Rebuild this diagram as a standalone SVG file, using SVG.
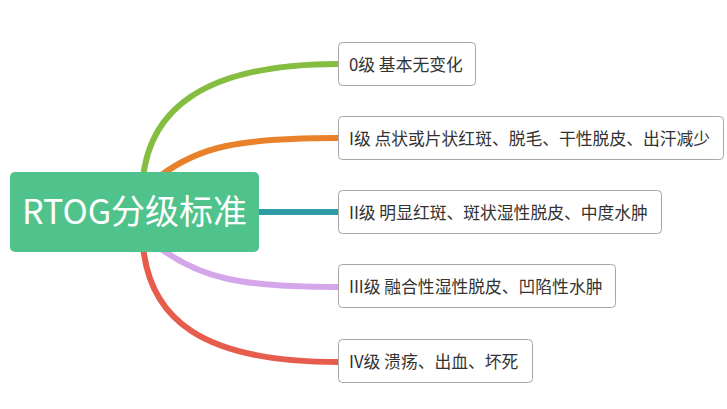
<svg xmlns="http://www.w3.org/2000/svg" width="727" height="409" viewBox="0 0 727 409">
<style>
.c{fill:none;stroke-width:6;stroke-linecap:round}
.n{fill:#fff;stroke:#a6a6a6;stroke-width:1}
.t{font-family:"Noto Sans CJK SC","Microsoft YaHei",sans-serif;font-size:16.8px;fill:#333}
.root{font-family:"Noto Sans CJK SC",sans-serif;font-size:34px;fill:#fff}
</style>
<rect width="727" height="409" fill="#fff"/>
<g id="connectors">
<path class="c" stroke="#84bd3f" d="M143,178 C150,112 200,64 338,64"/>
<path class="c" stroke="#e9802a" d="M160,176 C200,146 240,138 338,138"/>
<path class="c" stroke="#2d9ca7" d="M255,212 L338,212"/>
<path class="c" stroke="#d6a6ea" d="M160,248 C200,278 240,287 338,287"/>
<path class="c" stroke="#e65d4d" d="M143,246 C150,318 200,362 338,362"/>
</g>
<g id="root">
<rect x="10" y="172" width="249" height="80" rx="5" fill="#4fc38b"/>
<text class="root" x="134.5" y="224" text-anchor="middle">RTOG分级标准</text>
</g>
<g id="n0">
<rect class="n" x="338.5" y="42.5" width="137" height="43" rx="4" stroke="#b9dd95"/>
<text class="t" x="349" y="70.5">0级 基本无变化</text>
</g>
<g id="n1">
<rect class="n" x="338.5" y="116.5" width="385" height="43" rx="4"/>
<text class="t" x="349" y="144.5">I级 点状或片状红斑、脱毛、干性脱皮、出汗减少</text>
</g>
<g id="n2">
<rect class="n" x="338.5" y="190.5" width="323" height="43" rx="4"/>
<text class="t" x="349" y="218.5">II级 明显红斑、斑状湿性脱皮、中度水肿</text>
</g>
<g id="n3">
<rect class="n" x="338.5" y="264.5" width="277" height="43" rx="4"/>
<text class="t" x="349" y="292.5">III级 融合性湿性脱皮、凹陷性水肿</text>
</g>
<g id="n4">
<rect class="n" x="338.5" y="339.5" width="194" height="43" rx="4" stroke="#f4b3ad"/>
<text class="t" x="349" y="367.5">IV级 溃疡、出血、坏死</text>
</g>
</svg>
